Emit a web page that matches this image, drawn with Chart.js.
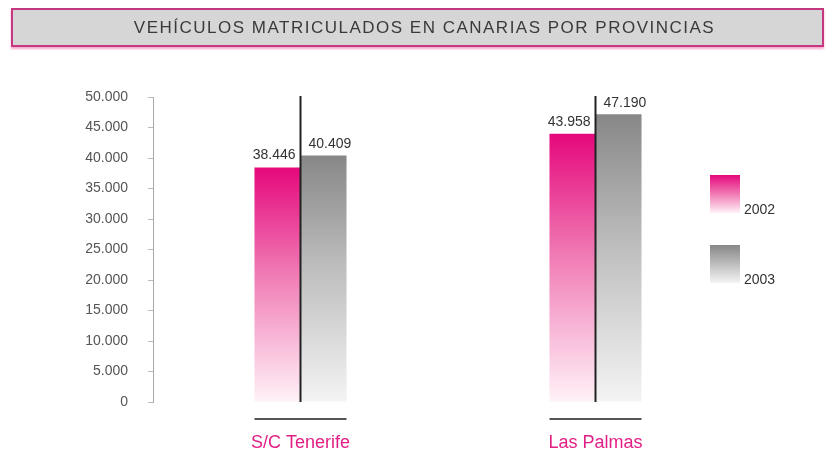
<!DOCTYPE html>
<html><head><meta charset="utf-8">
<script src="https://cdn.jsdelivr.net/npm/chart.js@4"></script>
<style>
html,body{margin:0;padding:0;background:#fff;width:828px;height:450px;overflow:hidden}
#wrap{position:relative;width:828px;height:450px}
#title{position:absolute;left:11px;top:8px;width:813px;height:39px;box-sizing:border-box;border:2px solid #c4387f;background:#d6d6d6;box-shadow:0 2px 2px #f6a9cd;font-family:"Liberation Sans",Arial,sans-serif;font-size:17px;color:#3a3a3a;line-height:35px;text-align:center;padding-left:14px;letter-spacing:1.5px}
#c{position:absolute;left:0;top:0}
</style></head>
<body><div id="wrap">
<canvas id="c" width="828" height="450"></canvas>
<div id="title">VEHÍCULOS MATRICULADOS EN CANARIAS POR PROVINCIAS</div>
</div>
<script>
const categories = ['S/C Tenerife', 'Las Palmas'];
const seriesNames = ['2002', '2003'];
const values2002 = [38446, 43958];
const values2003 = [40409, 47190];
const yMin = 0, yMax = 50000, yStep = 5000;

const fmt = n => String(n).replace(/\B(?=(\d{3})+(?!\d))/g, '.');

const palettes = [
  ['#e5087c', '#f07ab4', '#fff2f8'],
  ['#878787', '#bdbdbd', '#f4f4f4']
];

function barGrad(ctx, i) {
  const chart = ctx.chart;
  const p = palettes[i];
  if (!chart.chartArea || ctx.type !== 'data') return p[0];
  const yT = chart.scales.y.getPixelForValue(ctx.raw);
  const yB = chart.scales.y.getPixelForValue(0);
  const g = chart.ctx.createLinearGradient(0, yT, 0, yB);
  g.addColorStop(0, p[0]);
  g.addColorStop(0.45, p[1]);
  g.addColorStop(1, p[2]);
  return g;
}

const decor = {
  id: 'decor',
  afterDatasetsDraw(chart) {
    const c = chart.ctx, ca = chart.chartArea;
    const m0 = chart.getDatasetMeta(0), m1 = chart.getDatasetMeta(1);
    c.save();
    c.font = '14px "Liberation Sans", Arial, sans-serif';
    c.fillStyle = '#333';
    c.textBaseline = 'middle';
    chart.data.datasets.forEach((ds, di) => {
      chart.getDatasetMeta(di).data.forEach((el, i) => {
        const w = el.width;
        if (di === 0) { c.textAlign = 'right'; c.fillText(fmt(ds.data[i]), el.x + w / 2 - 5, el.y - 12); }
        else { c.textAlign = 'left'; c.fillText(fmt(ds.data[i]), el.x - w / 2 + 8, el.y - 11); }
      });
    });
    m0.data.forEach((el, i) => {
      const xs = el.x + el.width / 2;
      c.strokeStyle = '#222'; c.lineWidth = 2;
      c.beginPath(); c.moveTo(xs, ca.top - 1); c.lineTo(xs, ca.bottom); c.stroke();
      const e1 = m1.data[i];
      c.strokeStyle = '#555'; c.lineWidth = 2;
      c.beginPath(); c.moveTo(el.x - el.width / 2, ca.bottom + 17); c.lineTo(e1.x + e1.width / 2, ca.bottom + 17); c.stroke();
    });
    seriesNames.forEach((name, i) => {
      const y0 = 175 + i * 70;
      const g = c.createLinearGradient(0, y0, 0, y0 + 38);
      const p = palettes[i];
      g.addColorStop(0, p[0]); g.addColorStop(0.5, p[1]); g.addColorStop(1, p[2]);
      c.fillStyle = g;
      c.fillRect(710, y0, 30, 38);
      c.fillStyle = '#333';
      c.font = '14px "Liberation Sans", Arial, sans-serif';
      c.textAlign = 'left'; c.textBaseline = 'middle';
      c.fillText(name, 744, y0 + 35);
    });
    c.restore();
  }
};

new Chart(document.getElementById('c'), {
  type: 'bar',
  data: {
    labels: categories,
    datasets: [
      { label: seriesNames[0], data: values2002, backgroundColor: ctx => barGrad(ctx, 0), borderWidth: 0 },
      { label: seriesNames[1], data: values2003, backgroundColor: ctx => barGrad(ctx, 1), borderWidth: 0 }
    ]
  },
  options: {
    responsive: false,
    animation: false,
    devicePixelRatio: 1,
    layout: { padding: { top: 97, right: 85, bottom: 0, left: 0 } },
    plugins: { legend: { display: false }, title: { display: false }, tooltip: { enabled: false } },
    datasets: { bar: { barPercentage: 1, categoryPercentage: 0.312 } },
    scales: {
      x: {
        offset: true,
        grid: { display: false, drawTicks: false },
        border: { display: false },
        ticks: { color: '#e21f85', font: { family: '"Liberation Sans", Arial, sans-serif', size: 18 }, padding: 30 },
        afterFit: s => { s.height = 48; }
      },
      y: {
        min: yMin, max: yMax,
        ticks: { stepSize: yStep, callback: v => fmt(v), color: '#555', font: { family: '"Liberation Sans", Arial, sans-serif', size: 14 }, padding: 20 },
        grid: { drawOnChartArea: false, drawTicks: true, tickLength: 5, color: '#bbb' },
        border: { color: '#aaa', width: 1 },
        afterFit: s => { s.width = 153; }
      }
    }
  },
  plugins: [decor]
});
</script>
</body></html>
